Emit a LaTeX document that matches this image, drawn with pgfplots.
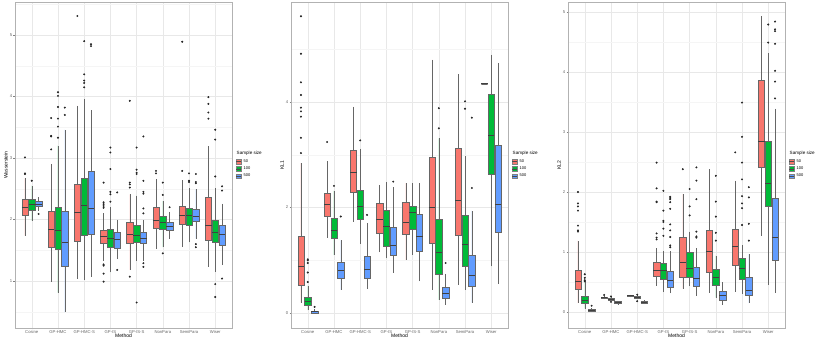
\documentclass[border=0pt]{standalone}
\usepackage{fontspec}
\setmainfont{Liberation Sans}
\usepackage{pgfplots}
\pgfplotsset{compat=1.18}
\usepgfplotslibrary{statistics}
\definecolor{c50}{HTML}{F8766D}
\definecolor{c100}{HTML}{00BA38}
\definecolor{c500}{HTML}{619CFF}

\pgfplotsset{
  panel/.style={
    anchor=south west, scale only axis,
    width=217pt, height=326pt,
    xmin=0.36, xmax=8.64,
    xtick={1,...,8},
    xticklabels={Cosine,GP-HMC,GP-HMC-S,GP-IS,GP-IS-S,NonPara,SemiPara,Wiser},
    xtick pos=bottom, ytick pos=left, tick align=outside,
    major tick length=1.5pt, minor tick length=0pt,
    tick style={black!50, line width=0.4pt},
    grid=both,
    major grid style={black!9, line width=0.5pt},
    minor grid style={black!4, line width=0.3pt},
    axis line style={black!30, line width=0.6pt},
    /pgf/number format/assume math mode=true,
    ticklabel style={font=\fontsize{4.2}{5}\selectfont, text=black!60, inner sep=1pt},
    label style={font=\fontsize{5}{6}\selectfont, inner sep=1pt},
    xlabel={Method},
    xlabel style={yshift=2.5pt},
    legend style={at={(1.018,0.5)}, anchor=west, draw=none, fill=none,
      font=\fontsize{4}{5}\selectfont, row sep=-1pt, inner sep=0pt},
    legend cell align=left,
    boxplot/draw direction=y,
    boxplot/box extend=0.24,
    boxplot/whisker extend=0,
    boxplot/every median/.style={line width=0.9pt, draw=black!75},
  },
  bxstyle/.style={draw=black!60, line width=0.45pt, mark=*, mark size=0.75pt,
    mark options={fill=black!85, draw=black!85}},
  keyimg/.style={legend image code/.code={
      \draw[##1, line width=0.4pt] (0pt,-2.3pt) rectangle (5pt,2.3pt);
      \draw[black!70, line width=0.6pt] (0pt,0pt) -- (5pt,0pt);}},
}

% pos, colour, lower whisker, lower quartile, median, upper quartile, upper whisker, outliers
\newcommand{\bx}[8]{%
  \addplot[bxstyle, fill=#2, boxplot prepared={draw position=#1,
    lower whisker=#3, lower quartile=#4, median=#5,
    upper quartile=#6, upper whisker=#7}] coordinates {#8};}

\newcommand{\keys}{%
  \addlegendimage{empty legend}\addlegendentry{\hspace{-7pt}\fontsize{4.6}{5}\selectfont Sample size}
  \addlegendimage{keyimg, fill=c50, draw=black!50}\addlegendentry{50}
  \addlegendimage{keyimg, fill=c100, draw=black!50}\addlegendentry{100}
  \addlegendimage{keyimg, fill=c500, draw=black!50}\addlegendentry{500}}

\begin{document}
\begin{tikzpicture}[x=1pt,y=1pt]

% ---------------- panel 1 ----------------
\begin{axis}[panel, at={(15pt,11pt)},
  ymin=0.236, ymax=5.537,
  ytick={1,2,3,4,5}, minor ytick={0.5,1.5,2.5,3.5,4.5,5.5},
  ylabel={Wasserstein}]
\keys
\bx{0.74}{c50}{1.74}{2.075}{2.20}{2.33}{2.67}{(0,3.01)(0,2.75)(0,2.74)}
\bx{1}{c100}{1.98}{2.145}{2.24}{2.33}{2.55}{(0,2.63)}
\bx{1.26}{c500}{2.14}{2.21}{2.25}{2.29}{2.36}{(0,2.09)}
\bx{1.74}{c50}{0.99}{1.55}{1.84}{2.13}{2.905}{(0,3.65)(0,3.36)(0,3.35)(0,3.14)}
\bx{2}{c100}{0.81}{1.52}{1.82}{2.20}{3.20}{(0,4.07)(0,4.01)(0,3.83)(0,3.64)(0,3.51)(0,3.33)}
\bx{2.26}{c500}{0.49}{1.24}{1.63}{2.14}{3.46}{(0,3.82)(0,3.70)}
\bx{2.74}{c50}{1.04}{1.64}{2.12}{2.57}{3.85}{(0,5.31)}
\bx{3}{c100}{1.02}{1.75}{2.23}{2.67}{3.96}{(0,4.90)(0,4.36)(0,4.26)(0,4.22)(0,4.15)}
\bx{3.26}{c500}{1.07}{1.76}{2.18}{2.79}{3.78}{(0,4.85)(0,4.82)}
\bx{3.74}{c50}{1.33}{1.61}{1.73}{1.83}{2.10}{(0,2.60)(0,2.28)(0,2.25)(0,2.22)(0,2.19)(0,1.27)(0,1.25)(0,1.12)(0,0.99)}
\bx{4}{c100}{1.14}{1.55}{1.69}{1.84}{2.20}{(0,3.17)(0,3.09)(0,2.82)(0,2.45)(0,2.41)(0,2.29)}
\bx{4.26}{c500}{1.35}{1.53}{1.68}{1.79}{2.00}{(0,2.44)(0,1.18)}
\bx{4.74}{c50}{1.18}{1.61}{1.76}{1.95}{2.41}{(0,3.93)(0,2.60)(0,2.57)(0,2.52)(0,1.07)}
\bx{5}{c100}{1.33}{1.63}{1.74}{1.91}{2.39}{(0,3.17)(0,2.81)(0,2.76)(0,2.74)(0,0.65)}
\bx{5.26}{c500}{1.33}{1.61}{1.69}{1.80}{2.00}{(0,3.35)(0,2.63)(0,2.45)(0,2.42)(0,2.18)(0,2.10)(0,1.29)(0,1.23)}
\bx{5.74}{c50}{1.52}{1.86}{1.99}{2.20}{2.66}{(0,2.79)(0,2.75)}
\bx{6}{c100}{1.55}{1.85}{1.96}{2.06}{2.30}{(0,2.60)(0,2.40)(0,1.45)}
\bx{6.26}{c500}{1.69}{1.83}{1.895}{1.955}{2.13}{(0,2.20)}
\bx{6.74}{c50}{1.55}{1.93}{2.06}{2.22}{2.64}{(0,4.89)(0,2.79)}
\bx{7}{c100}{1.63}{1.91}{2.06}{2.18}{2.51}{(0,2.75)(0,2.63)(0,2.61)}
\bx{7.26}{c500}{1.69}{1.97}{2.05}{2.17}{2.49}{(0,2.74)(0,2.61)(0,2.59)(0,1.60)(0,1.55)}
\bx{7.74}{c50}{1.23}{1.67}{1.91}{2.37}{3.19}{(0,3.99)(0,3.88)(0,3.74)(0,3.64)}
\bx{8}{c100}{1.15}{1.63}{1.79}{1.99}{2.51}{(0,3.46)(0,3.30)(0,2.70)(0,0.95)(0,0.74)}
\bx{8.26}{c500}{1.26}{1.59}{1.76}{1.90}{2.26}{(0,2.54)(0,2.47)(0,1.04)}
\end{axis}

% ---------------- panel 2 ----------------
\begin{axis}[panel, at={(291pt,11pt)},
  ymin=-0.28, ymax=5.89,
  ytick={0,2,4}, minor ytick={1,3,5},
  ylabel={KL1}]
\keys
\bx{0.74}{c50}{0.20}{0.53}{0.89}{1.466}{2.84}{(0,5.62)(0,4.91)(0,4.37)(0,4.13)(0,3.89)(0,3.82)(0,3.72)(0,3.32)(0,3.03)}
\bx{1}{c100}{0.06}{0.15}{0.23}{0.31}{0.52}{(0,1.02)(0,1.00)(0,0.95)(0,0.77)(0,0.59)}
\bx{1.26}{c500}{0.0}{0.006}{0.025}{0.044}{0.075}{(0,0.12)}
\bx{1.74}{c50}{1.43}{1.83}{2.06}{2.275}{2.875}{(0,3.24)}
\bx{2}{c100}{1.10}{1.415}{1.57}{1.80}{2.32}{(0,2.41)}
\bx{2.26}{c500}{0.44}{0.66}{0.815}{0.97}{1.38}{(0,1.83)}
\bx{2.74}{c50}{1.73}{2.29}{2.66}{3.08}{3.91}{}
\bx{3}{c100}{1.31}{1.78}{2.02}{2.33}{3.11}{(0,3.27)}
\bx{3.26}{c500}{0.455}{0.66}{0.83}{1.08}{1.71}{(0,1.86)}
\bx{3.74}{c50}{1.15}{1.51}{1.78}{2.085}{2.43}{}
\bx{4}{c100}{1.04}{1.26}{1.65}{1.95}{2.48}{}
\bx{4.26}{c500}{0.77}{1.10}{1.28}{1.62}{2.38}{(0,2.49)}
\bx{4.74}{c50}{1.01}{1.50}{1.71}{2.10}{2.46}{}
\bx{5}{c100}{1.11}{1.58}{1.90}{2.03}{2.46}{}
\bx{5.26}{c500}{0.60}{1.18}{1.45}{1.88}{2.46}{}
\bx{5.74}{c50}{0.44}{1.33}{2.00}{2.95}{4.80}{}
\bx{6}{c100}{0.25}{0.74}{1.15}{1.78}{3.31}{(0,3.88)(0,3.50)}
\bx{6.26}{c500}{0.16}{0.28}{0.38}{0.50}{0.75}{(0,0.95)}
\bx{6.74}{c50}{0.54}{1.48}{2.13}{3.13}{4.52}{}
\bx{7}{c100}{0.44}{0.885}{1.31}{1.845}{2.98}{(0,4.01)(0,3.87)}
\bx{7.26}{c500}{0.20}{0.51}{0.71}{1.10}{1.94}{(0,3.70)(0,2.37)}
\bx{7.74}{c50}{4.34}{4.34}{4.34}{4.34}{4.34}{}
\bx{8}{c100}{0.885}{2.635}{3.36}{4.15}{4.89}{}
\bx{8.26}{c500}{0.55}{1.54}{2.05}{3.185}{4.74}{}
\end{axis}

% ---------------- panel 3 ----------------
\begin{axis}[panel, at={(568pt,11pt)},
  ymin=-0.266, ymax=5.166,
  ytick={0,1,2,3,4,5}, minor ytick={0.5,1.5,2.5,3.5,4.5},
  ylabel={KL2}]
\keys
\bx{0.74}{c50}{0.15}{0.38}{0.515}{0.70}{1.19}{(0,2.00)(0,1.81)(0,1.76)(0,1.69)(0,1.44)(0,1.36)(0,1.34)}
\bx{1}{c100}{0.055}{0.14}{0.195}{0.27}{0.50}{(0,0.63)(0,0.57)(0,0.53)(0,0.51)}
\bx{1.26}{c500}{0.0}{0.01}{0.028}{0.045}{0.07}{(0,0.105)}
\bx{1.74}{c50}{0.21}{0.23}{0.24}{0.25}{0.27}{(0,0.285)}
\bx{2}{c100}{0.18}{0.20}{0.215}{0.23}{0.25}{(0,0.26)(0,0.17)}
\bx{2.26}{c500}{0.12}{0.145}{0.16}{0.175}{0.19}{}
\bx{2.74}{c50}{0.245}{0.26}{0.27}{0.28}{0.29}{}
\bx{3}{c100}{0.21}{0.23}{0.245}{0.26}{0.28}{(0,0.29)(0,0.18)}
\bx{3.26}{c500}{0.13}{0.15}{0.165}{0.18}{0.20}{}
\bx{3.74}{c50}{0.44}{0.59}{0.70}{0.83}{1.06}{(0,2.49)(0,2.06)(0,1.84)(0,1.83)(0,1.31)(0,1.24)(0,1.21)}
\bx{4}{c100}{0.33}{0.54}{0.70}{0.815}{1.02}{(0,2.02)(0,1.69)(0,1.52)(0,1.50)(0,1.39)(0,1.27)}
\bx{4.26}{c500}{0.31}{0.415}{0.52}{0.68}{1.01}{(0,1.92)(0,1.90)(0,1.88)(0,1.83)(0,1.72)(0,1.46)(0,1.36)(0,1.25)(0,1.11)(0,1.08)}
\bx{4.74}{c50}{0.39}{0.58}{0.83}{1.25}{1.97}{(0,2.38)}
\bx{5}{c100}{0.43}{0.58}{0.73}{1.00}{1.34}{(0,2.05)(0,1.76)(0,1.61)}
\bx{5.26}{c500}{0.27}{0.43}{0.565}{0.74}{1.06}{(0,2.41)(0,2.19)(0,1.88)(0,1.34)(0,1.26)(0,1.24)}
\bx{5.74}{c50}{0.32}{0.66}{1.01}{1.37}{2.38}{}
\bx{6}{c100}{0.24}{0.44}{0.58}{0.715}{0.94}{(0,2.27)(0,1.84)(0,1.59)(0,1.32)(0,1.19)}
\bx{6.26}{c500}{0.12}{0.19}{0.27}{0.34}{0.50}{}
\bx{6.74}{c50}{0.34}{0.775}{1.09}{1.38}{2.19}{(0,2.66)}
\bx{7}{c100}{0.30}{0.55}{0.73}{0.90}{1.12}{(0,3.49)(0,2.92)(0,2.49)(0,2.21)(0,1.93)(0,1.81)(0,1.73)(0,1.45)}
\bx{7.26}{c500}{0.15}{0.28}{0.36}{0.58}{0.97}{(0,2.08)(0,1.91)(0,1.47)(0,1.19)}
\bx{7.74}{c50}{1.27}{2.41}{2.84}{3.86}{4.93}{}
\bx{8}{c100}{0.455}{1.77}{2.145}{2.85}{4.31}{(0,4.79)(0,4.49)}
\bx{8.26}{c500}{0.32}{0.86}{1.25}{1.895}{3.39}{(0,4.84)(0,4.71)(0,4.68)(0,4.47)(0,4.02)(0,3.84)(0,3.56)}
\end{axis}

\pgfresetboundingbox
\useasboundingbox (0,0) rectangle (830,339);
\end{tikzpicture}
\end{document}
